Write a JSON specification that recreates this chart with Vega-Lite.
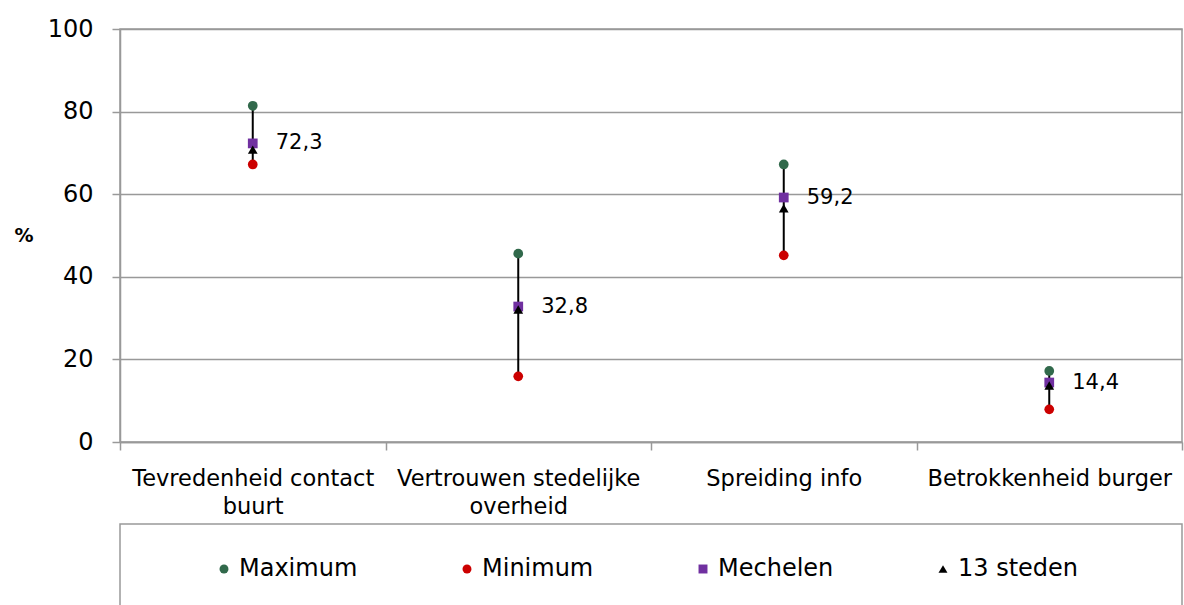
{
  "$schema": "https://vega.github.io/schema/vega-lite/v6.json",
  "padding": {"left": 13, "top": 16, "right": 3, "bottom": 0},
  "spacing": 4,
  "config": {
    "font": "DejaVu Sans",
    "view": {"stroke": "#999999", "strokeWidth": 1.5},
    "axis": {"labelColor": "#000000", "titleColor": "#000000", "domainColor": "#999999", "tickColor": "#999999", "gridColor": "#999999", "domainWidth": 1.5, "tickWidth": 1.5, "gridWidth": 1.5, "gridOpacity": 1}
  },
  "datasets": {
    "punten": [
      {"categorie": "Tevredenheid contact buurt", "reeks": "Maximum", "waarde": 81.4, "label": ""},
      {"categorie": "Tevredenheid contact buurt", "reeks": "Minimum", "waarde": 67.2, "label": ""},
      {"categorie": "Tevredenheid contact buurt", "reeks": "Mechelen", "waarde": 72.3, "label": "72,3"},
      {"categorie": "Tevredenheid contact buurt", "reeks": "13 steden", "waarde": 70.8, "label": ""},
      {"categorie": "Vertrouwen stedelijke overheid", "reeks": "Maximum", "waarde": 45.6, "label": ""},
      {"categorie": "Vertrouwen stedelijke overheid", "reeks": "Minimum", "waarde": 15.9, "label": ""},
      {"categorie": "Vertrouwen stedelijke overheid", "reeks": "Mechelen", "waarde": 32.8, "label": "32,8"},
      {"categorie": "Vertrouwen stedelijke overheid", "reeks": "13 steden", "waarde": 32.1, "label": ""},
      {"categorie": "Spreiding info", "reeks": "Maximum", "waarde": 67.2, "label": ""},
      {"categorie": "Spreiding info", "reeks": "Minimum", "waarde": 45.2, "label": ""},
      {"categorie": "Spreiding info", "reeks": "Mechelen", "waarde": 59.2, "label": "59,2"},
      {"categorie": "Spreiding info", "reeks": "13 steden", "waarde": 56.6, "label": ""},
      {"categorie": "Betrokkenheid burger", "reeks": "Maximum", "waarde": 17.2, "label": ""},
      {"categorie": "Betrokkenheid burger", "reeks": "Minimum", "waarde": 7.9, "label": ""},
      {"categorie": "Betrokkenheid burger", "reeks": "Mechelen", "waarde": 14.4, "label": "14,4"},
      {"categorie": "Betrokkenheid burger", "reeks": "13 steden", "waarde": 13.7, "label": ""}
    ]
  },
  "resolve": {
    "scale": {"color": "independent", "shape": "independent", "size": "independent", "x": "independent", "y": "independent"},
    "legend": {"color": "independent", "shape": "independent", "size": "independent"}
  },
  "vconcat": [
    {
      "width": 1062,
      "height": 413,
      "data": {"name": "punten"},
      "encoding": {
        "x": {
          "field": "categorie",
          "type": "nominal",
          "sort": ["Tevredenheid contact buurt", "Vertrouwen stedelijke overheid", "Spreiding info", "Betrokkenheid burger"],
          "scale": {"paddingInner": 0, "paddingOuter": 0},
          "axis": {
            "title": null,
            "labelAngle": 0,
            "labelFontSize": 22.5,
            "labelLineHeight": 28,
            "labelPadding": 17,
            "labelLimit": 500,
            "tickSize": 8,
            "tickBand": "extent",
            "grid": false,
            "labelExpr": "datum.value == 'Tevredenheid contact buurt' ? ['Tevredenheid contact', 'buurt'] : datum.value == 'Vertrouwen stedelijke overheid' ? ['Vertrouwen stedelijke', 'overheid'] : datum.value"
          }
        }
      },
      "layer": [
        {
          "mark": {"type": "rule", "color": "#000000", "strokeWidth": 2},
          "encoding": {
            "y": {"aggregate": "min", "field": "waarde", "type": "quantitative", "scale": {"domain": [0, 100]}},
            "y2": {"aggregate": "max", "field": "waarde"}
          }
        },
        {
          "mark": {"type": "point", "filled": true, "opacity": 1, "strokeWidth": 0},
          "encoding": {
            "y": {
              "field": "waarde",
              "type": "quantitative",
              "scale": {"domain": [0, 100]},
              "axis": {
                "values": [0, 20, 40, 60, 80, 100],
                "labelFontSize": 24,
                "labelPadding": 19,
                "tickSize": 8,
                "title": "%",
                "titleAngle": 0,
                "titleFontSize": 19,
                "titleFontWeight": "bold",
                "titleAlign": "left",
                "titleBaseline": "middle",
                "titleX": -106,
                "titleY": 206
              }
            },
            "color": {
              "field": "reeks",
              "type": "nominal",
              "scale": {"domain": ["Maximum", "Minimum", "Mechelen", "13 steden"], "range": ["#31694B", "#CC0000", "#7030A0", "#000000"]},
              "legend": null
            },
            "shape": {
              "field": "reeks",
              "type": "nominal",
              "scale": {"domain": ["Maximum", "Minimum", "Mechelen", "13 steden"], "range": ["circle", "circle", "square", "triangle-up"]},
              "legend": null
            },
            "size": {
              "field": "reeks",
              "type": "nominal",
              "scale": {"domain": ["Maximum", "Minimum", "Mechelen", "13 steden"], "range": [95, 95, 210, 72]},
              "legend": null
            }
          }
        },
        {
          "transform": [{"filter": "datum.label != ''"}],
          "mark": {"type": "text", "align": "left", "baseline": "middle", "dx": 23, "fontSize": 21, "color": "#000000"},
          "encoding": {
            "y": {"field": "waarde", "type": "quantitative"},
            "text": {"field": "label"}
          }
        }
      ]
    },
    {
      "width": 1062,
      "height": 100,
      "data": {"name": "punten"},
      "transform": [{"filter": "datum.reeks == 'geen'"}],
      "mark": {"type": "point", "filled": true, "opacity": 1, "strokeWidth": 0},
      "encoding": {
        "x": {
          "field": "categorie",
          "type": "nominal",
          "scale": {"domain": ["Tevredenheid contact buurt", "Vertrouwen stedelijke overheid", "Spreiding info", "Betrokkenheid burger"], "paddingInner": 0, "paddingOuter": 0},
          "axis": null
        },
        "y": {"field": "waarde", "type": "quantitative", "scale": {"domain": [0, 100]}, "axis": null},
        "color": {
          "field": "reeks",
          "type": "nominal",
          "scale": {"domain": ["Maximum", "Minimum", "Mechelen", "13 steden"], "range": ["#31694B", "#CC0000", "#7030A0", "#000000"]},
          "legend": {
            "title": null,
            "orient": "none",
            "direction": "horizontal",
            "legendX": 92,
            "legendY": 33,
            "padding": 0,
            "columnPadding": 97,
            "labelFontSize": 24,
            "labelColor": "#000000",
            "labelOffset": 3,
            "symbolOpacity": 1,
            "symbolStrokeWidth": 0
          }
        },
        "shape": {
          "field": "reeks",
          "type": "nominal",
          "scale": {"domain": ["Maximum", "Minimum", "Mechelen", "13 steden"], "range": ["circle", "circle", "square", "triangle-up"]}
        },
        "size": {
          "field": "reeks",
          "type": "nominal",
          "scale": {"domain": ["Maximum", "Minimum", "Mechelen", "13 steden"], "range": [80, 80, 200, 64]}
        }
      }
    }
  ]
}
